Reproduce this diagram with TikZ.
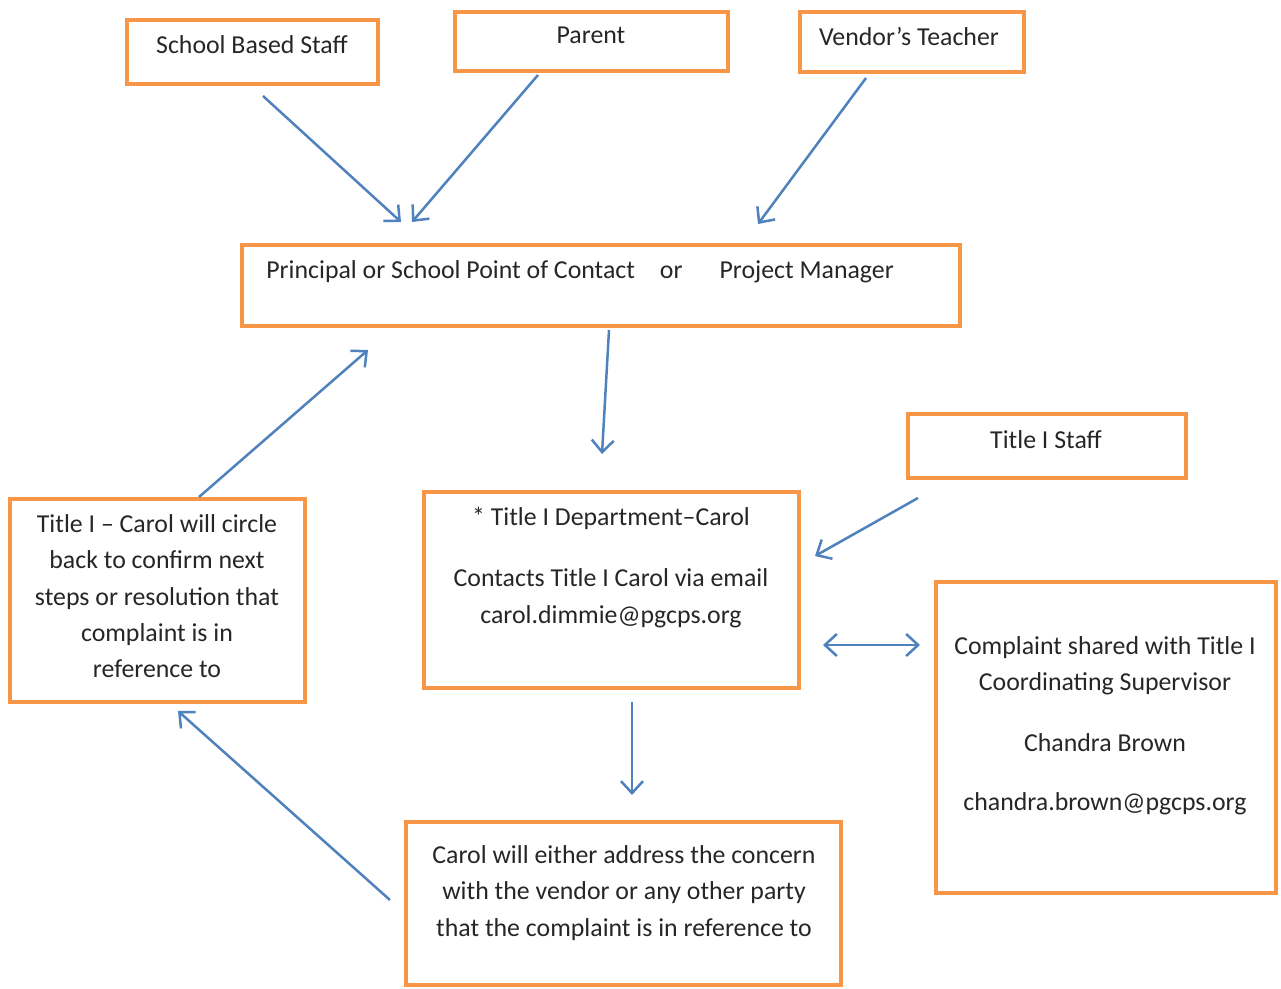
\documentclass[tikz,border=0pt]{standalone}
\usepackage{fontspec}
\setmainfont{Carlito}
\usepackage{tikz}
\usetikzlibrary{arrows.meta, positioning, calc}
\definecolor{boxorange}{HTML}{F79646}
\definecolor{flowblue}{HTML}{4F81BD}
\definecolor{txtgray}{HTML}{262626}
\tikzset{
    box/.style={draw=boxorange, line width=0.08cm, rectangle, fill=none},
    txt/.style={inner sep=0pt, align=center, anchor=north, text=txtgray,
      font=\fontsize{14.7}{20.7}\selectfont},
    flow/.style={draw=flowblue, line width=0.05cm,
      -{Straight Barb[length=2.4mm, width=4.4mm]}},
}

\begin{document}
\begin{tikzpicture}[x=0.02cm, y=-0.02cm]
    \useasboundingbox (0,0) rectangle (1281,989);

    % boxes
    \node[box, minimum width=5.02cm, minimum height=1.28cm] (staff) at (252.5,52) {};
    \node[box, minimum width=5.46cm, minimum height=1.18cm] (parent) at (591.5,41.5) {};
    \node[box, minimum width=4.48cm, minimum height=1.2cm] (vendor) at (912,42) {};
    \node[box, minimum width=14.36cm, minimum height=1.62cm] (principal) at (601,285.5) {};
    \node[box, minimum width=5.56cm, minimum height=1.28cm] (titlestaff) at (1047,446) {};
    \node[box, minimum width=7.5cm, minimum height=3.92cm] (dept) at (611.5,590) {};
    \node[box, minimum width=5.9cm, minimum height=4.06cm] (circle) at (157.5,600.5) {};
    \node[box, minimum width=6.8cm, minimum height=6.22cm] (shared) at (1106,737.5) {};
    \node[box, minimum width=8.7cm, minimum height=3.26cm] (address) at (623.5,903.5) {};

    % texts
    \node[txt] (staff-t) at (252,35) {School Based Staff};
    \node[txt] (parent-t) at (591,27) {Parent};
    \node[txt] (vendor-t) at (909,27) {Vendor’s Teacher};
    \node[txt, anchor=north west] (principal-t) at (266,260)
      {Principal or School Point of Contact\hspace{0.5cm}or\hspace{0.74cm}Project Manager};
    \node[txt] (titlestaff-t) at (1046,430) {Title I Staff};
    \node[txt] (dept-t) at (611,507)
      {* Title I Department–Carol\\[14pt] Contacts Title I Carol via email\\ carol.dimmie@pgcps.org};
    \node[txt] (circle-t) at (157,514)
      {Title I – Carol will circle\\ back to confirm next\\ steps or resolution that\\ complaint is in\\ reference to};
    \node[txt] (shared-t) at (1105,636)
      {Complaint shared with Title I\\ Coordinating Supervisor\\[14pt] Chandra Brown\\[13pt] chandra.brown@pgcps.org};
    \node[txt] (address-t) at (624,845)
      {Carol will either address the concern\\ with the vendor or any other party\\ that the complaint is in reference to};

    % arrow ends
    \coordinate (a1) at (263,96);   \coordinate (b1) at (401,222);
    \coordinate (a2) at (538,75);   \coordinate (b2) at (412,222);
    \coordinate (a3) at (866,78);   \coordinate (b3) at (758,224);
    \coordinate (a4) at (609,330);  \coordinate (b4) at (602,454);
    \coordinate (a5) at (918,498);  \coordinate (b5) at (815,556);
    \coordinate (a6) at (823,645);  \coordinate (b6) at (920,645);
    \coordinate (a7) at (632,702);  \coordinate (b7) at (632,795);
    \coordinate (a8) at (390,900);  \coordinate (b8) at (178,711);
    \coordinate (a9) at (199,497);  \coordinate (b9) at (368,350);

    \draw[flow] (a1) -- (b1);
    \draw[flow] (a2) -- (b2);
    \draw[flow] (a3) -- (b3);
    \draw[flow] (a4) -- (b4);
    \draw[flow] (a5) -- (b5);
    \draw[flow, {Straight Barb[length=2.4mm, width=4.4mm]}-{Straight Barb[length=2.4mm, width=4.4mm]}] (a6) -- (b6);
    \draw[flow] (a7) -- (b7);
    \draw[flow] (a8) -- (b8);
    \draw[flow] (a9) -- (b9);
\end{tikzpicture}
\end{document}
